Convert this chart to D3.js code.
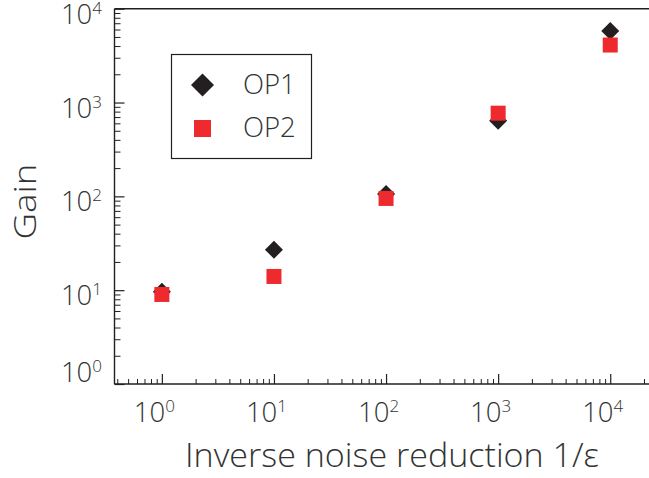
<!DOCTYPE html>
<html>
<head>
<meta charset="utf-8">
<script src="https://cdn.jsdelivr.net/npm/d3@7/dist/d3.min.js"></script>
<style>
  html, body { margin: 0; padding: 0; background: #fff; }
  svg { display: block; }
  text { font-family: "Open Sans", "Noto Sans", sans-serif; font-weight: 300; fill: #333; }
</style>
</head>
<body>
<svg id="chart" width="649" height="478"></svg>
<script>
// Gain versus inverse noise reduction for two operating points
const noiseReduction = [1, 10, 100, 1000, 10000];
const gainOP1 = [9.6, 27, 106, 640, 5800];
const gainOP2 = [9.0, 14, 95, 770, 4100];
const seriesNames = ["OP1", "OP2"];
const tickExponents = [0, 1, 2, 3, 4];

const svg = d3.select("#chart");
const W = 649, H = 478;
const plot = { left: 114.5, top: 8.7, right: 649.5, bottom: 384 };

const x = d3.scaleLog().domain([0.378, 22400]).range([plot.left, plot.right]);
const y = d3.scaleLog().domain([1, 1e4]).range([plot.bottom, plot.top]);

const ink = "#231f20";
const red = "#ee2a2e";

// minor tick values (2..9 of each decade) inside a domain
function minorTicks(domain) {
  const out = [];
  for (let e = -2; e <= 5; e++) {
    for (let m = 2; m <= 9; m++) {
      const v = m * Math.pow(10, e);
      if (v >= domain[0] && v <= domain[1]) out.push(v);
    }
  }
  return out;
}
const majors = tickExponents.map(e => Math.pow(10, e));

function styleAxis(g, w) {
  g.select(".domain").remove();
  g.selectAll(".tick line").attr("stroke", ink).attr("stroke-width", w);
  g.selectAll(".tick text").remove();
}

// x axis ticks (pointing inward)
svg.append("g").attr("transform", `translate(0,${plot.bottom})`)
  .call(d3.axisBottom(x).tickValues(minorTicks(x.domain())).tickSizeInner(-5).tickSizeOuter(0).tickFormat(""))
  .call(g => styleAxis(g, 1));
svg.append("g").attr("transform", `translate(0,${plot.bottom})`)
  .call(d3.axisBottom(x).tickValues(majors).tickSizeInner(-10).tickSizeOuter(0).tickFormat(""))
  .call(g => styleAxis(g, 1.2));

// y axis ticks (pointing inward)
svg.append("g").attr("transform", `translate(${plot.left},0)`)
  .call(d3.axisLeft(y).tickValues(minorTicks(y.domain())).tickSizeInner(-6).tickSizeOuter(0).tickFormat(""))
  .call(g => styleAxis(g, 1));
svg.append("g").attr("transform", `translate(${plot.left},0)`)
  .call(d3.axisLeft(y).tickValues(majors).tickSizeInner(-10).tickSizeOuter(0).tickFormat(""))
  .call(g => styleAxis(g, 1.2));

// frame lines: left, bottom, top
const frame = svg.append("g").attr("stroke", ink).attr("stroke-width", 1.4).attr("fill", "none");
frame.append("line").attr("x1", plot.left).attr("x2", plot.left).attr("y1", plot.top).attr("y2", plot.bottom);
frame.append("line").attr("x1", plot.left).attr("x2", W).attr("y1", plot.bottom).attr("y2", plot.bottom);
frame.append("line").attr("x1", plot.left).attr("x2", W).attr("y1", plot.top).attr("y2", plot.top);

// power-of-ten label: "10" with raised exponent
function powLabel(sel, e) {
  sel.append("tspan").text("10");
  sel.append("tspan").attr("font-size", 17).attr("dy", -10).text(e);
}

// x tick labels
tickExponents.forEach(e => {
  const t = svg.append("text")
    .attr("x", x(Math.pow(10, e)) - 7.5)
    .attr("y", 422.3)
    .attr("text-anchor", "middle")
    .attr("font-size", 27.5);
  powLabel(t, e);
});

// y tick labels (lowest one lifted clear of the x labels)
tickExponents.forEach(e => {
  const t = svg.append("text")
    .attr("x", 102)
    .attr("y", y(Math.pow(10, e)) + (e === 0 ? -2.5 : 15))
    .attr("text-anchor", "end")
    .attr("font-size", 27.5);
  powLabel(t, e);
});

// axis titles
svg.append("text")
  .attr("x", 392).attr("y", 467)
  .attr("text-anchor", "middle")
  .attr("font-size", 33)
  .attr("textLength", 414)
  .attr("lengthAdjust", "spacingAndGlyphs")
  .text("Inverse noise reduction  1/ε");

svg.append("text")
  .attr("transform", "translate(35.5,201.5) rotate(-90)")
  .attr("text-anchor", "middle")
  .attr("font-size", 31)
  .attr("textLength", 76)
  .attr("lengthAdjust", "spacingAndGlyphs")
  .text("Gain");

// markers
const diamond = (s) => `M0,${-s}L${s},0L0,${s}L${-s},0Z`;

svg.append("g").selectAll("path")
  .data(noiseReduction.map((v, i) => [v, gainOP1[i]]))
  .join("path")
  .attr("d", diamond(9))
  .attr("fill", ink)
  .attr("transform", d => `translate(${x(d[0])},${y(d[1])})`);

const sq = 15;
svg.append("g").selectAll("rect")
  .data(noiseReduction.map((v, i) => [v, gainOP2[i]]))
  .join("rect")
  .attr("width", sq).attr("height", sq)
  .attr("fill", red)
  .attr("x", d => x(d[0]) - sq / 2)
  .attr("y", d => y(d[1]) - sq / 2);

// legend
const lg = svg.append("g");
lg.append("rect")
  .attr("x", 171.5).attr("y", 54.5).attr("width", 140).attr("height", 104)
  .attr("fill", "#fff").attr("stroke", ink).attr("stroke-width", 1.2);
lg.append("path").attr("d", diamond(11.5)).attr("fill", ink)
  .attr("transform", "translate(202.5,85)");
lg.append("rect").attr("x", 194).attr("y", 120).attr("width", 17).attr("height", 17).attr("fill", red);
lg.append("text").attr("x", 243).attr("y", 93.5).attr("font-size", 27.5).text(seriesNames[0]);
lg.append("text").attr("x", 243).attr("y", 136.5).attr("font-size", 27.5).text(seriesNames[1]);
</script>
</body>
</html>
